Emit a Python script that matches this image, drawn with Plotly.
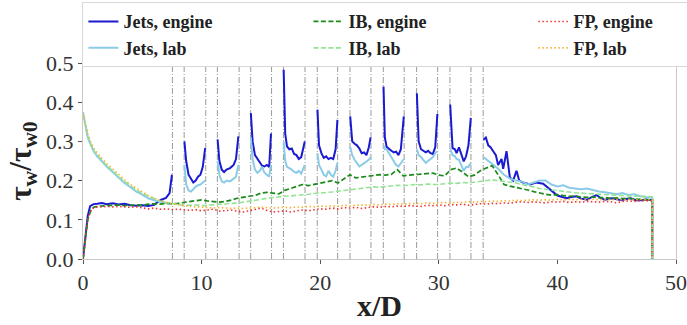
import plotly.graph_objects as go

# ---------------- data ----------------
# Jets: gaps (None) inside the jet regions
JETS_X = [0, 0.2, 0.4, 0.6, 0.9, 1.2, 1.6, 2.0, 2.5, 3.0, 3.5, 4.0, 4.5, 5.0, 5.5, 6.0, 6.5, 7.0, 7.3, 7.5,
          8.0,
          8.55, 8.7, 8.9, 9.1, 9.3, 9.5, 9.7, 9.9, 10.1, 10.3,
          10.8,
          11.35, 11.5, 11.7, 11.9, 12.1, 12.4, 12.7, 12.9, 13.1,
          13.6,
          14.15, 14.3, 14.5, 14.7, 14.9, 15.1, 15.3, 15.5, 15.7, 15.85,
          16.4,
          16.92, 17.05, 17.2, 17.4, 17.6, 17.8, 18.0, 18.2, 18.4, 18.7,
          19.2,
          19.77, 19.9, 20.1, 20.3, 20.5, 20.7, 20.9, 21.1, 21.3, 21.45,
          22.0,
          22.53, 22.7, 22.9, 23.1, 23.3, 23.5, 23.7, 23.9, 24.1, 24.25,
          24.8,
          25.34, 25.45, 25.6, 25.8, 26.0, 26.2, 26.4, 26.6, 26.8, 27.05,
          27.6,
          28.15, 28.3, 28.5, 28.7, 28.9, 29.1, 29.3, 29.5, 29.7, 29.88,
          30.4,
          30.96, 31.16, 31.36, 31.5, 31.7, 31.9, 32.1, 32.3, 32.5, 32.7,
          33.2,
          33.76, 33.97, 34.17, 34.36, 34.59, 34.81, 35.0, 35.29, 35.43, 35.71, 35.99, 36.27, 36.55, 36.78,
          37.1, 37.7, 38.2, 38.8, 39.4, 40.0, 40.4, 40.8, 41.2, 41.6, 42.0, 42.5, 42.9, 43.3, 43.7, 44.0,
          44.6, 45.0, 45.4, 45.8, 46.2, 46.6, 47.1, 47.5, 48.0, 48.0]

JETS_ENGINE = [0.0, 0.06, 0.11, 0.135, 0.14, 0.141, 0.143, 0.14, 0.142, 0.139, 0.141, 0.137, 0.136, 0.137, 0.135, 0.138, 0.15, 0.156, 0.168, 0.215,
               None,
               0.30, 0.25, 0.215, 0.205, 0.195, 0.2, 0.21, 0.215, 0.235, 0.283,
               None,
               0.305, 0.25, 0.228, 0.222, 0.228, 0.232, 0.24, 0.255, 0.313,
               None,
               0.372, 0.30, 0.265, 0.255, 0.245, 0.238, 0.236, 0.24, 0.235, 0.32,
               None,
               0.483, 0.32, 0.287, 0.28, 0.282, 0.268, 0.265, 0.255, 0.26, 0.30,
               None,
               0.381, 0.29, 0.27, 0.258, 0.262, 0.255, 0.258, 0.255, 0.28, 0.355,
               None,
               0.364, 0.30, 0.294, 0.29, 0.282, 0.27, 0.272, 0.265, 0.285, 0.31,
               None,
               0.44, 0.31, 0.286, 0.28, 0.276, 0.272, 0.274, 0.265, 0.28, 0.364,
               None,
               0.423, 0.30, 0.28, 0.275, 0.272, 0.276, 0.27, 0.268, 0.285, 0.37,
               None,
               0.394, 0.283, 0.28, 0.27, 0.285, 0.265, 0.249, 0.262, 0.29, 0.36,
               None,
               0.304, 0.31, 0.29, 0.285, 0.275, 0.265, 0.24, 0.255, 0.23, 0.275, 0.208, 0.2, 0.225, 0.2,
               0.195, 0.19, 0.195, 0.192, 0.177, 0.162, 0.158, 0.155, 0.158, 0.16, 0.154, 0.151, 0.158, 0.163, 0.155, 0.151,
               0.155, 0.152, 0.15, 0.153, 0.155, 0.15, 0.15, 0.152, 0.15, 0.0]

JETS_LAB_X = [0, 0.2, 0.4, 0.6, 0.9, 1.2, 1.6, 2.0, 2.5, 3.0, 3.5, 4.0, 4.5, 5.0, 5.5, 6.0, 6.5, 7.0, 7.5,
              8.0,
              8.55, 8.7, 8.9, 9.1, 9.3, 9.5, 9.7, 9.9, 10.1, 10.3,
              10.8,
              11.35, 11.5, 11.7, 11.9, 12.1, 12.4, 12.7, 12.9, 13.1,
              13.6,
              14.15, 14.3, 14.5, 14.7, 14.9, 15.1, 15.3, 15.5, 15.7, 15.85,
              16.4,
              16.92, 17.05, 17.2, 17.4, 17.6, 17.8, 18.0, 18.2, 18.4, 18.7,
              19.2,
              19.77, 19.9, 20.1, 20.3, 20.5, 20.7, 20.9, 21.1, 21.3, 21.45,
              22.0,
              22.53, 22.7, 22.9, 23.1, 23.3, 23.5, 23.7, 23.9, 24.1, 24.25,
              24.8,
              25.34, 25.45, 25.6, 25.8, 26.0, 26.2, 26.4, 26.6, 26.8, 27.05,
              27.6,
              28.15, 28.3, 28.5, 28.7, 28.9, 29.1, 29.3, 29.5, 29.7, 29.88,
              30.4,
              30.96, 31.16, 31.36, 31.5, 31.7, 31.9, 32.1, 32.3, 32.5, 32.7,
              33.2,
              33.76, 34.2, 34.6, 35.0, 35.5, 36.0, 36.5, 37.0, 37.5, 38.0, 38.5, 39.0, 39.5, 40.0, 40.5, 41.0,
              41.5, 42.0, 42.5, 43.0, 43.5, 44.0, 44.5, 45.0, 45.5, 46.0, 46.5, 47.0, 47.5, 48.0, 48.0]

JETS_LAB = [0.375, 0.34, 0.31, 0.295, 0.275, 0.262, 0.248, 0.236, 0.222, 0.208, 0.194, 0.183, 0.172, 0.164, 0.155, 0.15, 0.146, 0.143, 0.14,
            None,
            0.24, 0.19, 0.175, 0.172, 0.178, 0.185, 0.188, 0.19, 0.195, 0.2,
            None,
            0.25, 0.215, 0.198, 0.195, 0.2, 0.198, 0.205, 0.21, 0.24,
            None,
            0.31, 0.255, 0.228, 0.22, 0.225, 0.235, 0.22, 0.215, 0.21, 0.24,
            None,
            0.30, 0.25, 0.235, 0.232, 0.228, 0.222, 0.22, 0.225, 0.218, 0.24,
            None,
            0.27, 0.24, 0.228, 0.215, 0.211, 0.225, 0.215, 0.21, 0.225, 0.245,
            None,
            0.286, 0.265, 0.253, 0.245, 0.236, 0.24, 0.245, 0.25, 0.253, 0.26,
            None,
            0.29, 0.28, 0.28, 0.27, 0.26, 0.253, 0.24, 0.236, 0.245, 0.255,
            None,
            0.28, 0.265, 0.26, 0.253, 0.245, 0.25, 0.255, 0.26, 0.27, 0.275,
            None,
            0.28, 0.265, 0.262, 0.255, 0.253, 0.24, 0.225, 0.235, 0.235, 0.245,
            None,
            0.26, 0.25, 0.24, 0.23, 0.215, 0.205, 0.2, 0.198, 0.19, 0.195, 0.2, 0.2, 0.19, 0.185, 0.188, 0.182,
            0.18, 0.178, 0.18, 0.175, 0.172, 0.17, 0.168, 0.165, 0.168, 0.163, 0.165, 0.16, 0.158, 0.157, 0.0]

GRID_X = [0, 0.2, 0.4, 0.7, 1.0, 1.5, 2.0, 2.5, 3.0, 3.5, 4.0, 4.5, 5.0, 5.5, 6.0, 6.5, 7.0, 7.5, 8.0, 8.5,
          9.0, 9.5, 10.0, 10.5, 11.0, 11.5, 12.0, 12.5, 13.0, 13.5, 14.0, 14.5, 15.0, 15.5, 16.0, 16.5,
          17.0, 17.5, 18.0, 18.5, 19.0, 19.5, 20.0, 20.5, 21.0, 21.5, 22.0, 22.5, 23.0, 23.5, 24.0, 24.5,
          25.0, 25.5, 26.0, 26.5, 27.0, 27.5, 28.0, 28.5, 29.0, 29.5, 30.0, 30.5, 31.0, 31.5, 32.0, 32.5,
          33.0, 33.5, 34.0, 34.5, 35.0, 35.5, 36.0, 36.5, 37.0, 37.5, 38.0, 38.5, 39.0, 39.5, 40.0, 40.5,
          41.0, 41.5, 42.0, 42.5, 43.0, 43.5, 44.0, 44.5, 45.0, 45.5, 46.0, 46.5, 47.0, 47.5, 48.0, 48.0]

IB_ENGINE = [0.0, 0.05, 0.1, 0.128, 0.133, 0.135, 0.136, 0.137, 0.138, 0.136, 0.137, 0.138, 0.137, 0.14, 0.141, 0.14, 0.142, 0.141, 0.142, 0.144,
             0.146, 0.148, 0.151, 0.148, 0.147, 0.145, 0.147, 0.15, 0.155, 0.158, 0.16, 0.162, 0.168, 0.17, 0.168, 0.166,
             0.175, 0.18, 0.186, 0.19, 0.187, 0.19, 0.194, 0.196, 0.2, 0.194, 0.205, 0.215, 0.207, 0.209, 0.211, 0.213,
             0.215, 0.214, 0.216, 0.228, 0.212, 0.214, 0.215, 0.216, 0.218, 0.219, 0.214, 0.212, 0.228, 0.232, 0.222, 0.21,
             0.214, 0.225, 0.232, 0.238, 0.215, 0.19, 0.186, 0.183, 0.18, 0.176, 0.172, 0.168, 0.165, 0.163, 0.164, 0.162,
             0.16, 0.161, 0.158, 0.157, 0.158, 0.156, 0.157, 0.155, 0.156, 0.154, 0.155, 0.153, 0.152, 0.151, 0.15, 0.0]

IB_LAB = [0.37, 0.34, 0.315, 0.29, 0.272, 0.255, 0.238, 0.225, 0.21, 0.198, 0.186, 0.176, 0.167, 0.16, 0.153, 0.148, 0.144, 0.141, 0.139, 0.138,
          0.137, 0.138, 0.136, 0.137, 0.138, 0.139, 0.14, 0.142, 0.143, 0.145, 0.147, 0.15, 0.152, 0.155, 0.157, 0.158,
          0.16, 0.161, 0.162, 0.163, 0.165, 0.167, 0.168, 0.17, 0.171, 0.173, 0.175, 0.177, 0.179, 0.181, 0.182, 0.184,
          0.183, 0.185, 0.186, 0.188, 0.187, 0.188, 0.19, 0.189, 0.191, 0.19, 0.19, 0.192, 0.194, 0.193, 0.195, 0.194,
          0.196, 0.198, 0.2, 0.202, 0.2, 0.198, 0.196, 0.194, 0.19, 0.186, 0.184, 0.18, 0.178, 0.176, 0.174, 0.172,
          0.17, 0.169, 0.168, 0.167, 0.166, 0.165, 0.164, 0.163, 0.162, 0.162, 0.161, 0.16, 0.16, 0.159, 0.158, 0.0]

FP_ENGINE = [0.0, 0.05, 0.1, 0.127, 0.132, 0.133, 0.134, 0.133, 0.134, 0.133, 0.132, 0.133, 0.13, 0.128, 0.13, 0.127, 0.128, 0.126, 0.127, 0.125,
             0.124, 0.126, 0.123, 0.125, 0.127, 0.122, 0.124, 0.125, 0.122, 0.12, 0.123, 0.126, 0.13, 0.124, 0.12, 0.121,
             0.123, 0.12, 0.122, 0.125, 0.123, 0.126, 0.128, 0.127, 0.13, 0.128, 0.131, 0.13, 0.132, 0.129, 0.131, 0.133,
             0.132, 0.134, 0.133, 0.135, 0.134, 0.136, 0.135, 0.134, 0.137, 0.136, 0.138, 0.136, 0.139, 0.138, 0.14, 0.137,
             0.139, 0.141, 0.14, 0.142, 0.141, 0.143, 0.142, 0.145, 0.146, 0.144, 0.146, 0.145, 0.143, 0.146, 0.145, 0.147,
             0.144, 0.146, 0.145, 0.147, 0.146, 0.145, 0.147, 0.146, 0.143, 0.147, 0.148, 0.147, 0.149, 0.148, 0.148, 0.0]

FP_LAB = [0.37, 0.345, 0.32, 0.295, 0.278, 0.26, 0.243, 0.23, 0.215, 0.202, 0.19, 0.18, 0.17, 0.162, 0.155, 0.149, 0.145, 0.141, 0.138, 0.136,
          0.134, 0.133, 0.132, 0.131, 0.13, 0.131, 0.13, 0.129, 0.13, 0.129, 0.13, 0.131, 0.132, 0.131, 0.13, 0.131,
          0.132, 0.131, 0.133, 0.132, 0.134, 0.133, 0.135, 0.134, 0.136, 0.135, 0.137, 0.136, 0.137, 0.138, 0.137, 0.139,
          0.138, 0.14, 0.139, 0.141, 0.14, 0.141, 0.142, 0.141, 0.143, 0.142, 0.143, 0.144, 0.143, 0.145, 0.144, 0.146,
          0.145, 0.147, 0.146, 0.148, 0.147, 0.149, 0.148, 0.15, 0.149, 0.15, 0.151, 0.15, 0.151, 0.15, 0.152, 0.151,
          0.152, 0.151, 0.152, 0.151, 0.152, 0.151, 0.152, 0.151, 0.152, 0.151, 0.152, 0.151, 0.152, 0.151, 0.151, 0.0]

JET_EDGES = [7.54, 8.53, 10.35, 11.33, 13.16, 14.14, 15.9, 16.9, 18.72, 19.75,
             21.47, 22.51, 24.28, 25.32, 27.08, 28.13, 29.9, 30.94, 32.71, 33.74]

X_TICKS = [0, 10, 20, 30, 40, 50]
Y_TICKS = [0.0, 0.1, 0.2, 0.3, 0.4, 0.5]

FONT = "Liberation Serif"

# ---------------- figure ----------------
fig = go.Figure()

series = [
    ("<b>Jets, engine</b>", JETS_X, JETS_ENGINE, "#1a1ad0", "solid", 2.0, 1),
    ("<b>Jets, lab</b>", JETS_LAB_X, JETS_LAB, "#8ccbe8", "solid", 2.0, 4),
    ("<b>IB, engine</b>", GRID_X, IB_ENGINE, "#1a8a1a", "5px,2.5px", 1.7, 2),
    ("<b>IB, lab</b>", GRID_X, IB_LAB, "#93e593", "5px,2.5px", 1.6, 5),
    ("<b>FP, engine</b>", GRID_X, FP_ENGINE, "#ee3333", "1.5px,2.5px", 1.6, 3),
    ("<b>FP, lab</b>", GRID_X, FP_LAB, "#f5b335", "1.5px,2.5px", 1.6, 6),
]
for name, xs, ys, col, dash, w, rank in series:
    fig.add_trace(go.Scatter(x=xs, y=ys, mode="lines", name=name, legendrank=rank,
                             line=dict(color=col, dash=dash, width=w), connectgaps=False))

for xe in JET_EDGES:
    fig.add_shape(type="line", xref="x", yref="paper", x0=xe, x1=xe, y0=0, y1=1,
                  line=dict(color="#9a9a9a", width=1, dash="6px,2px,1px,2px"), layer="below")

axis_common = dict(showgrid=False, zeroline=False, showline=True, linecolor="#c8c8c8", linewidth=1,
                   mirror=True, ticks="outside", ticklen=4, tickcolor="#555555", automargin=False,
                   tickfont=dict(family=FONT, size=22, color="#333333"))

fig.update_layout(
    width=687, height=325, autosize=False,
    margin=dict(l=83, r=11, t=63, b=66, autoexpand=False),
    plot_bgcolor="white", paper_bgcolor="white",
    xaxis=dict(range=[0, 50], tickvals=X_TICKS,
               title=dict(text="<b>x/D</b>", font=dict(family=FONT, size=30, color="#222222"), standoff=0),
               **axis_common),
    yaxis=dict(range=[0, 0.5], tickvals=Y_TICKS, tickformat=".1f",
               title=dict(text="<b>τ<sub>w</sub>/τ<sub>w0</sub></b>", font=dict(family=FONT, size=31, color="#222222"), standoff=5),
               **axis_common),
    legend=dict(orientation="h", x=-0.001, xanchor="left", y=1.31, yanchor="top",
                bgcolor="white", bordercolor="#d8d8d8", borderwidth=1,
                font=dict(family=FONT, size=18, color="#222222"),
                entrywidth=180, entrywidthmode="pixels", tracegroupgap=0),
    showlegend=True,
)

fig.write_html("out.html", config={"displayModeBar": False},
               post_script="document.body.style.margin='0px';document.body.style.overflow='hidden';")
